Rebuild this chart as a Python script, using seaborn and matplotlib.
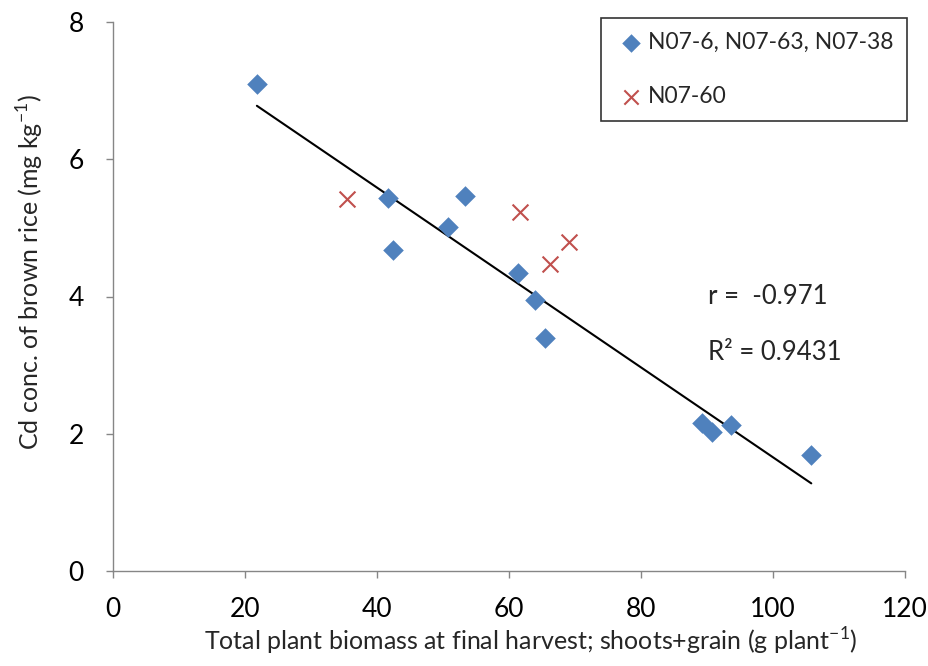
import numpy as np
import pandas as pd
import matplotlib
matplotlib.use("Agg")
import matplotlib.pyplot as plt
import seaborn as sns

# Data
blue_x = [21.8, 41.7, 42.5, 50.7, 53.3, 61.3, 63.9, 65.5, 89.3, 90.8, 93.6, 105.8]
blue_y = [7.10, 5.43, 4.68, 5.02, 5.46, 4.34, 3.95, 3.40, 2.15, 2.03, 2.13, 1.69]
red_x = [35.5, 61.6, 66.2, 69.1]
red_y = [5.42, 5.23, 4.47, 4.79]
blue_label = "N07-6, N07-63, N07-38"
red_label = "N07-60"
r_text = "r =  -0.971"
r2_text = "R² = 0.9431"
x_ticks = [0, 20, 40, 60, 80, 100, 120]
y_ticks = [0, 2, 4, 6, 8]

sns.set_theme(style="white")
plt.rcParams['font.family'] = ['Lato', 'DejaVu Sans']
plt.rcParams['mathtext.fontset'] = 'custom'
plt.rcParams['mathtext.rm'] = 'Lato'

blue_df = pd.DataFrame({"x": blue_x, "y": blue_y})
red_df = pd.DataFrame({"x": red_x, "y": red_y})

fig = plt.figure(figsize=(9.29, 6.66), dpi=100)
ax = fig.add_axes([113/929, 1 - 571/666, (905-113)/929, (571-22)/666])

sns.regplot(data=blue_df, x="x", y="y", scatter=False, ci=None, truncate=True,
            color="black", line_kws={"linewidth": 1.5}, ax=ax)
sns.scatterplot(data=blue_df, x="x", y="y", marker="D", s=110, color="#4F81BD",
                edgecolor="#4F81BD", linewidth=0, ax=ax, label=blue_label, zorder=3)
sns.scatterplot(data=red_df, x="x", y="y", marker="x", s=130, color="#C0504D",
                linewidth=1.5, ax=ax, label=red_label, zorder=3)

ax.set_xlim(0, 120)
ax.set_ylim(0, 8)
ax.set_xticks(x_ticks)
ax.set_yticks(y_ticks)
ax.tick_params(axis='both', which='both', direction='out', length=5, width=1,
               color="#868686", labelsize=19, labelcolor="black", left=True, bottom=True)
ax.tick_params(axis='x', pad=14)
ax.tick_params(axis='y', pad=16)
for side in ["top", "right"]:
    ax.spines[side].set_visible(False)
for side in ["left", "bottom"]:
    ax.spines[side].set_color("#868686")
    ax.spines[side].set_linewidth(1)

ax.set_xlabel("Total plant biomass at final harvest; shoots+grain (g plant$^{\\mathrm{-1}}$)",
              fontsize=18)
ax.xaxis.set_label_coords((531 - 113) / 792, -(641 - 571) / 549, transform=ax.transAxes)
ax.xaxis.label.set_va("center")
ax.set_ylabel("Cd conc. of brown rice (mg kg$^{\\mathrm{-1}}$)", fontsize=18)
ax.yaxis.set_label_coords(-(113 - 30) / 792, (571 - 272) / 549, transform=ax.transAxes)
ax.yaxis.label.set_va("center")

ax.text(90.2, 4.0, r_text, fontsize=18.5, va="center", ha="left")
ax.text(90.2, 3.19, r2_text, fontsize=18.5, va="center", ha="left")

leg = ax.legend(loc="upper left", bbox_to_anchor=(601/929, 1 - 18/666), bbox_transform=fig.transFigure,
                frameon=True, fancybox=False, edgecolor="black", fontsize=16.5,
                borderpad=0.6, labelspacing=1.45, handletextpad=0.05, handlelength=1.4,
                markerscale=0.9, borderaxespad=0)
leg.get_frame().set_linewidth(1.2)

fig.savefig("out.png", dpi=100)
